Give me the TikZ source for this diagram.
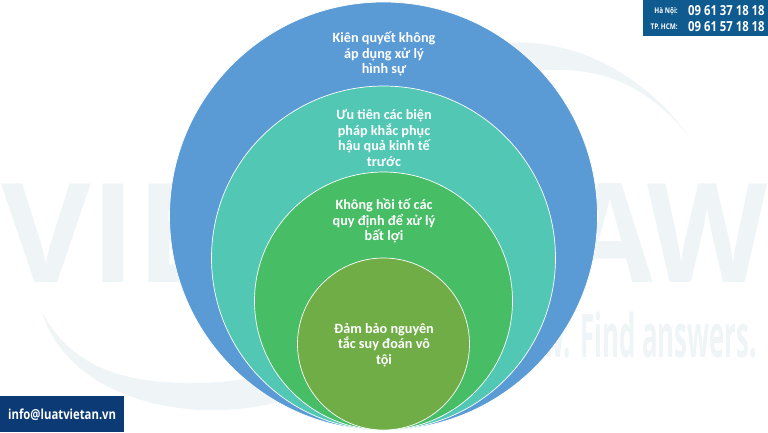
\documentclass[tikz,border=0pt]{standalone}
\usepackage{fontspec}
\usepackage{xcolor}
\setmainfont{Carlito}
\newfontfamily\markfont{Open Sans}
\newfontfamily\narrowfont[FakeStretch=0.82]{Open Sans}
\newfontfamily\slimfont[FakeStretch=0.43]{Open Sans}
\definecolor{ringblue}{HTML}{5B9BD5}
\definecolor{ringteal}{HTML}{52C8B4}
\definecolor{ringgreen}{HTML}{47BD66}
\definecolor{ringolive}{HTML}{70AD47}
\definecolor{markgrey}{HTML}{EFF4F7}
\definecolor{phonebar}{HTML}{0F5A8E}
\definecolor{mailbar}{HTML}{0B3A75}
\begin{document}
\begin{tikzpicture}[x=1pt,y=-1pt,
ring/.style={circle,draw=white,line width=0.7pt,minimum size=2*#1 pt,inner sep=0pt,anchor=center},
ringtext/.style={text=white,align=center,font=\fontsize{14.2}{15.6}\selectfont\bfseries,anchor=center},
bigmark/.style={text=markgrey,font=\markfont\fontsize{138}{138}\selectfont\bfseries,inner sep=0pt,anchor=base west},
smalllabel/.style={text=white,font=\narrowfont\fontsize{7.8}{8}\selectfont\bfseries,anchor=east,inner sep=0pt},
barlabel/.style={text=white,font=\narrowfont\fontsize{13.8}{14}\selectfont\bfseries,anchor=west,inner sep=0pt}]
\useasboundingbox (0,0) rectangle (768,432);
\fill[white] (0,0) rectangle (768,432);
% watermark
\node[bigmark] (markleft) at (1,282) {VIE};
\node[bigmark,anchor=base east,xscale=0.9] (markright) at (768,282) {AW};
\node[text=markgrey,font=\slimfont\fontsize{60}{60}\selectfont\bfseries,inner sep=0pt,anchor=base east] (markslogan) at (757,357) {w. Find answers.};
\fill[markgrey] (42,312) .. controls (60,370) and (120,405) .. (200,410) .. controls (250,412) and (290,400) .. (320,390) -- (300,365) .. controls (260,378) and (230,383) .. (190,383) .. controls (120,383) and (70,365) .. (42,312) -- cycle;
\fill[markgrey] (505,43) .. controls (570,38) and (640,70) .. (688,135) .. controls (650,90) and (610,68) .. (550,70) -- (520,72) -- cycle;
% circles
\node[ring=214,fill=ringblue] (outer) at (383.5,216) {};
\node[ring=172,fill=ringteal] (second) at (383.5,258) {};
\node[ring=129,fill=ringgreen] (third) at (383.5,301) {};
\node[ring=86,fill=ringolive] (inner) at (383.5,344) {};
\node[ringtext] (outertext) at (384,54) {Kiên quyết không\\áp dụng xử lý\\hình sự};
\node[ringtext] (secondtext) at (384,138) {Ưu tiên các biện\\pháp khắc phục\\hậu quả kinh tế\\trước};
\node[ringtext] (thirdtext) at (384,221) {Không hồi tố các\\quy định để xử lý\\bất lợi};
\node[ringtext] (innertext) at (384,345) {Đảm bảo nguyên\\tắc suy đoán vô\\tội};
% contact boxes
\fill[phonebar] (643,0) rectangle (768,36);
\node[smalllabel] (hanoi) at (678,11) {Hà Nội:};
\node[smalllabel] (hcm) at (678,27) {TP. HCM:};
\node[barlabel] (hanoinum) at (688,11) {09 61 37 18 18};
\node[barlabel] (hcmnum) at (688,27) {09 61 57 18 18};
\fill[mailbar] (0,396) rectangle (124,432);
\node[barlabel] (mail) at (8,415) {info@luatvietan.vn};
\end{tikzpicture}
\end{document}
